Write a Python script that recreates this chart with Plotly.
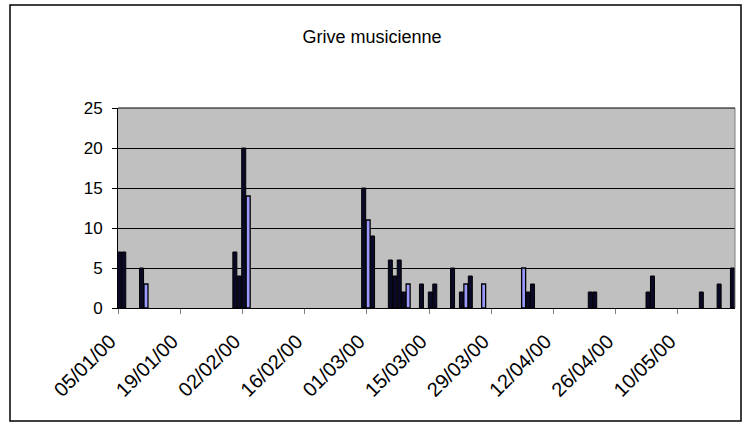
import plotly.graph_objects as go

# Data (day resolution, year 2000)
dark_dates = ["2000-01-05", "2000-01-06", "2000-01-10", "2000-01-31", "2000-02-01",
              "2000-02-02", "2000-02-29", "2000-03-02", "2000-03-06", "2000-03-07",
              "2000-03-08", "2000-03-09", "2000-03-13", "2000-03-15", "2000-03-16",
              "2000-03-20", "2000-03-22", "2000-03-24", "2000-04-06", "2000-04-07",
              "2000-04-20", "2000-04-21", "2000-05-03", "2000-05-04", "2000-05-15",
              "2000-05-19", "2000-05-22"]
dark_values = [7, 7, 5, 7, 4, 20, 15, 9, 6, 4, 6, 2, 3, 2, 3, 5, 2, 4, 2, 3, 2, 2, 2, 4, 2, 3, 5]

blue_dates = ["2000-01-11", "2000-02-03", "2000-03-01", "2000-03-10", "2000-03-23",
              "2000-03-27", "2000-04-05"]
blue_values = [3, 14, 11, 3, 3, 3, 5]

tick_dates = ["2000-01-05", "2000-01-19", "2000-02-02", "2000-02-16", "2000-03-01",
              "2000-03-15", "2000-03-29", "2000-04-12", "2000-04-26", "2000-05-10"]
tick_labels = ["05/01/00", "19/01/00", "02/02/00", "16/02/00", "01/03/00",
               "15/03/00", "29/03/00", "12/04/00", "26/04/00", "10/05/00"]

title_text = "Grive musicienne"

DAY = 86400000
bar_width = 0.9 * DAY
bar_offset = -0.15 * DAY
pad = "\u00a0\u00a0"

fig = go.Figure()
fig.add_trace(go.Bar(x=dark_dates, y=dark_values, width=bar_width, offset=bar_offset,
                     marker=dict(color="#0a0a28", line=dict(color="black", width=1)),
                     showlegend=False))
fig.add_trace(go.Bar(x=blue_dates, y=blue_values, width=bar_width, offset=bar_offset,
                     marker=dict(color="#9999FF", line=dict(color="black", width=1.3)),
                     showlegend=False))

fig.update_layout(
    width=744, height=427,
    margin=dict(l=118, r=9, t=108, b=119),
    paper_bgcolor="white",
    plot_bgcolor="#C0C0C0",
    barmode="overlay",
    font=dict(family="Liberation Sans, Arial, sans-serif", color="black"),
    title=dict(text=title_text, x=0.5, xref="container", xanchor="center",
               y=1 - 37 / 427, yref="container", yanchor="middle",
               font=dict(size=18, color="black")),
    xaxis=dict(
        type="date",
        range=["2000-01-05", "2000-05-22 21:00"],
        tickmode="array",
        tickvals=tick_dates,
        ticktext=[t + pad for t in tick_labels],
        tickangle=-45,
        ticks="outside", ticklen=5, tickcolor="#808080",
        showgrid=False, zeroline=False,
        showline=True, linecolor="black", linewidth=1,
        tickfont=dict(size=20),
    ),
    yaxis=dict(
        range=[0, 25], dtick=5, tick0=0,
        ticks="outside", ticklen=5, tickcolor="black",
        showgrid=True, gridcolor="black", gridwidth=1,
        zeroline=False,
        showline=True, linecolor="black", linewidth=1,
        tickfont=dict(size=17),
        ticklabelstandoff=6,
    ),
    shapes=[
        dict(type="line", xref="paper", yref="paper", x0=1, x1=1, y0=0, y1=1,
             line=dict(color="#808080", width=1)),
        dict(type="line", xref="paper", yref="paper", x0=0, x1=1, y0=1, y1=1,
             line=dict(color="black", width=1)),
        dict(type="rect", xref="paper", yref="paper",
             x0=(10 - 118) / 617, x1=(741 - 118) / 617,
             y0=(308 - 421) / 200, y1=(308 - 5) / 200,
             line=dict(color="black", width=1.5), fillcolor="rgba(0,0,0,0)"),
    ],
)

fig.write_html("out.html", config={"displayModeBar": False},
               post_script="document.body.style.margin='0';document.body.style.overflow='hidden';")
